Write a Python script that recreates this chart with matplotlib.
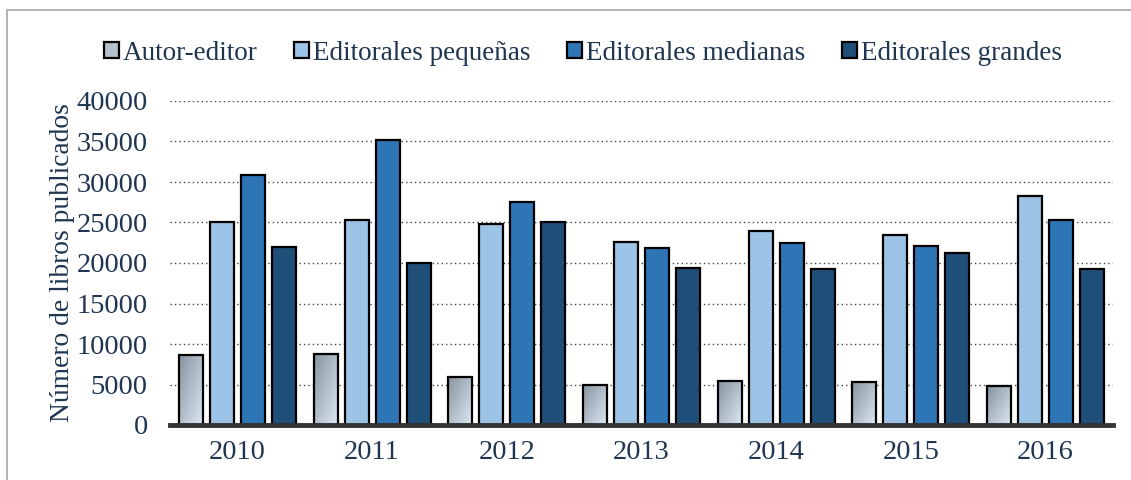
import numpy as np
import matplotlib
matplotlib.use('Agg')
import matplotlib.pyplot as plt
from matplotlib.patches import Patch, Rectangle
from matplotlib.colors import LinearSegmentedColormap

years = ['2010', '2011', '2012', '2013', '2014', '2015', '2016']
series_names = ['Autor-editor', 'Editorales pequeñas', 'Editorales medianas', 'Editorales grandes']
autor_editor = [8600, 8750, 5950, 5000, 5400, 5350, 4800]
pequenas = [25100, 25250, 24850, 22550, 24000, 23450, 28250]
medianas = [30850, 35200, 27500, 21850, 22450, 22150, 25350]
grandes = [22000, 20000, 25000, 19400, 19250, 21200, 19250]

text_color = '#1F3550'
colors = ['#B4C0CC', '#9DC3E6', '#2E75B6', '#1F4E79']
grad = LinearSegmentedColormap.from_list('grad', ['#87939F', '#DCE8F3'])
fs = 20.5

plt.rcParams['font.family'] = ['Liberation Serif', 'DejaVu Serif']
plt.rcParams['font.size'] = fs

fig = plt.figure(figsize=(11.31, 4.8), dpi=100)
ax = fig.add_axes([170 / 1131, 55 / 480, 943 / 1131, 324 / 480])

x = np.arange(len(years))
step = 0.23
width = 0.178
all_series = [autor_editor, pequenas, medianas, grandes]

# gradient image for the autor-editor bars (top-left dark, bottom-right light)
u = np.linspace(0, 1, 60)
gx, gy = np.meshgrid(u, u)
gimg = (gx + gy) / 2

for i, vals in enumerate(all_series):
    pos = x + (i - 1.5) * step
    bars = ax.bar(pos, vals, width, color=colors[i], edgecolor='black', linewidth=1.6, zorder=3)
    if i == 0:
        for b in bars:
            b.set_facecolor('none')
            x0, y0 = b.get_x(), b.get_y()
            im = ax.imshow(gimg, cmap=grad, extent=(x0, x0 + b.get_width(), y0, y0 + b.get_height()),
                           origin='upper', aspect='auto', zorder=2.5, interpolation='bilinear')
            im.set_clip_path(b)

ax.set_xlim(-0.5, len(years) - 0.5)
ax.set_ylim(0, 40000)
ax.set_yticks(range(0, 40001, 5000))
ax.set_xticks(x)
ax.set_xticklabels(years)
ax.yaxis.grid(True, linestyle=(0, (1, 2.2)), color='#444444', linewidth=1)
ax.set_axisbelow(True)
for s in ['top', 'right', 'left']:
    ax.spines[s].set_visible(False)
ax.spines['bottom'].set_color('#333333')
ax.spines['bottom'].set_linewidth(3.5)
ax.spines['bottom'].set_zorder(4)
ax.tick_params(axis='both', length=0, colors=text_color, labelsize=fs)
ax.tick_params(axis='y', pad=16)
ax.tick_params(axis='x', pad=11)
ax.set_ylabel('Número de libros publicados', color=text_color, fontsize=19.8, labelpad=1)

handles = [Patch(facecolor=c, edgecolor='black', linewidth=1.6) for c in colors]
fig.legend(handles, series_names, loc='center', bbox_to_anchor=(583 / 1131, 1 - 53 / 480), ncol=4,
           frameon=False, fontsize=19.5, labelcolor=text_color, handlelength=0.55, handleheight=0.55,
           handletextpad=0.15, columnspacing=1.35)

# outer frame
fig.patches.append(Rectangle((7 / 1131, -0.1), 1.2, 1.1 - 10 / 480, transform=fig.transFigure,
                             fill=False, edgecolor='#A6A6A6', linewidth=1.2))

fig.savefig('out.png', dpi=100)
